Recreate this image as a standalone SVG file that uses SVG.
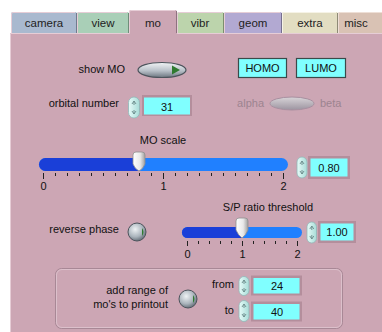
<svg xmlns="http://www.w3.org/2000/svg" width="382" height="332" viewBox="0 0 382 332">
  <defs>
    <style>
      text { font-family: "Liberation Sans", Arial, sans-serif; font-size: 11px; fill: #111; }
      .tabtxt { text-anchor: middle; font-size: 11.5px; fill: #222; }
      .r { text-anchor: end; }
      .m { text-anchor: middle; }
      .dim { fill: #9c8490; }
      .field { fill: #80ffff; }
      .frame { fill: #b48e9c; }
      .spin { fill: url(#spinGrad); stroke: #8fb8b8; stroke-width: 0.8; }
      .arr { fill: none; stroke: #6a8a8a; stroke-width: 0.9; }
      .tick { stroke: #222; stroke-width: 1; }
      .btn { fill: #80ffff; stroke: #3a4a4a; stroke-width: 1.2; }
      .hl { stroke: #e6cdd6; stroke-width: 1; fill: none; }
      .sh { stroke: #8e7280; stroke-width: 1; fill: none; }
    </style>
    <linearGradient id="knobGrad" x1="0" y1="0" x2="0" y2="1">
      <stop offset="0" stop-color="#f2f4f6"/>
      <stop offset="0.55" stop-color="#b8c0c8"/>
      <stop offset="1" stop-color="#6c7680"/>
    </linearGradient>
    <radialGradient id="roundGrad" cx="0.4" cy="0.35" r="0.7">
      <stop offset="0" stop-color="#eef2f4"/>
      <stop offset="0.6" stop-color="#aab4bc"/>
      <stop offset="1" stop-color="#5c6670"/>
    </radialGradient>
    <linearGradient id="thumbGrad" x1="0" y1="0" x2="1" y2="0">
      <stop offset="0" stop-color="#ffffff"/>
      <stop offset="0.6" stop-color="#e8e8e8"/>
      <stop offset="1" stop-color="#a0a0a0"/>
    </linearGradient>
    <linearGradient id="spinGrad" x1="0" y1="0" x2="1" y2="0">
      <stop offset="0" stop-color="#e6fbf8"/>
      <stop offset="1" stop-color="#a8dcd8"/>
    </linearGradient>
    <linearGradient id="grayToggle" x1="0" y1="0" x2="0" y2="1">
      <stop offset="0" stop-color="#d8d4d8"/>
      <stop offset="1" stop-color="#9c94a0"/>
    </linearGradient>
  </defs>

  <rect x="0" y="0" width="382" height="332" fill="#ffffff"/>

  <!-- tab strip -->
  <g id="tabs">
    <g id="tab-camera">
      <path d="M11,33 V14 Q11,12 13,12 H75 Q77,12 77,14 V33 Z" fill="#a9b9cf"/>
      <path d="M11.5,33 V14 Q11.5,12.5 13,12.5 H75" class="hl"/>
      <line x1="76.5" y1="13" x2="76.5" y2="33" stroke="#6f7c8e"/>
      <text x="44" y="27" class="tabtxt">camera</text>
    </g>
    <g id="tab-view">
      <path d="M77,33 V14 Q77,12 79,12 H127 Q129,12 129,14 V33 Z" fill="#a9cfb7"/>
      <path d="M77.5,33 V14 Q77.5,12.5 79,12.5 H127" class="hl"/>
      <line x1="128.5" y1="13" x2="128.5" y2="33" stroke="#6f8e7a"/>
      <text x="103" y="27" class="tabtxt">view</text>
    </g>
    <g id="tab-vibr">
      <path d="M177,33 V14 Q177,12 179,12 H222 Q224,12 224,14 V33 Z" fill="#bcd4ac"/>
      <path d="M177.5,33 V14 Q177.5,12.5 179,12.5 H222" class="hl"/>
      <line x1="223.5" y1="13" x2="223.5" y2="33" stroke="#7c8e6f"/>
      <text x="200" y="27" class="tabtxt">vibr</text>
    </g>
    <g id="tab-geom">
      <path d="M224,33 V14 Q224,12 226,12 H280 Q282,12 282,14 V33 Z" fill="#b2a9d2"/>
      <path d="M224.5,33 V14 Q224.5,12.5 226,12.5 H280" class="hl"/>
      <line x1="281.5" y1="13" x2="281.5" y2="33" stroke="#766f8e"/>
      <text x="253" y="27" class="tabtxt">geom</text>
    </g>
    <g id="tab-extra">
      <path d="M282,33 V14 Q282,12 284,12 H336 Q338,12 338,14 V33 Z" fill="#e2ddc2"/>
      <path d="M282.5,33 V14 Q282.5,12.5 284,12.5 H336" stroke="#f6f3e6" fill="none"/>
      <line x1="337.5" y1="13" x2="337.5" y2="33" stroke="#8e8a76"/>
      <text x="310" y="27" class="tabtxt">extra</text>
    </g>
    <g id="tab-misc">
      <path d="M338,33 V14 Q338,12 340,12 H382 V33 Z" fill="#d9c2b4"/>
      <path d="M338.5,33 V14 Q338.5,12.5 340,12.5 H382" stroke="#eedfd6" fill="none"/>
      <text x="356" y="27" class="tabtxt">misc</text>
    </g>
  </g>

  <!-- panel body with the selected "mo" tab -->
  <g id="panel">
    <rect x="10" y="33" width="372" height="299" fill="#cca6b4"/>
    <path d="M129,34 V12 Q129,10 131,10 H175 Q177,10 177,12 V34 Z" fill="#cca6b4"/>
    <path d="M10.5,332 V33.5 H129.5 V12 Q129.5,10.5 131,10.5 H175" class="hl"/>
    <line x1="176.5" y1="11" x2="176.5" y2="33" stroke="#8e7280"/>
    <line x1="177" y1="33.5" x2="382" y2="33.5" stroke="#e6cdd6"/>
    <text x="153" y="27" class="tabtxt">mo</text>
  </g>

  <!-- show MO toggle -->
  <g id="show-mo">
    <text x="125" y="73" class="r">show MO</text>
    <ellipse cx="162" cy="70" rx="24" ry="7.5" fill="url(#knobGrad)" stroke="#4c545c" stroke-width="1.2"/>
    <path d="M172,65.5 L180,70 L172,74.5 Z" fill="#2f7a2f"/>
  </g>

  <!-- HOMO / LUMO buttons -->
  <g id="homo">
    <rect x="238.5" y="58.5" width="48" height="19" class="btn"/>
    <text x="262.5" y="72" class="m">HOMO</text>
  </g>
  <g id="lumo">
    <rect x="296.5" y="58.5" width="49" height="19" class="btn"/>
    <text x="321" y="72" class="m">LUMO</text>
  </g>

  <!-- orbital number -->
  <g id="orbital-number">
    <text x="119" y="107" class="r">orbital number</text>
    <rect x="128.5" y="97" width="11" height="21" rx="5.5" class="spin"/>
    <path d="M132,104 L134,101 L136,104 M134,101 V105 M132,111 L134,114 L136,111 M134,114 V110" class="arr"/>
    <rect x="142" y="95" width="50" height="21" class="frame"/>
    <rect x="144" y="97.5" width="46" height="17" class="field"/>
    <text x="167" y="111" class="m">31</text>
  </g>

  <!-- alpha/beta toggle (disabled) -->
  <g id="alpha-beta">
    <text x="264" y="107" class="r dim">alpha</text>
    <ellipse cx="292" cy="103.5" rx="22" ry="6.5" fill="url(#grayToggle)" stroke="#a890a0" stroke-width="1"/>
    <text x="320" y="107" class="dim">beta</text>
  </g>

  <!-- MO scale slider -->
  <g id="mo-scale">
    <text x="163" y="144" class="m">MO scale</text>
    <rect x="39" y="158" width="249" height="13" rx="6.5" fill="#2080ff"/>
    <path d="M45.5,158 H140 V171 H45.5 A6.5,6.5 0 0 1 45.5,158 Z" fill="#1a3fd8"/>
    <path d="M133,155 Q133,152 136,152 H142 Q145,152 145,155 V164 Q143,169 139,171 Q135,169 133,164 Z" fill="url(#thumbGrad)" stroke="#909090" stroke-width="0.8"/>
    <path class="tick" d="M43.5,173 V179 M55.5,173 V176 M67.5,173 V176 M79.5,173 V176 M91.5,173 V176 M103.5,173 V176 M115.5,173 V176 M127.5,173 V176 M139.5,173 V176 M151.5,173 V176 M163.5,173 V179 M175.5,173 V176 M187.5,173 V176 M199.5,173 V176 M211.5,173 V176 M223.5,173 V176 M235.5,173 V176 M247.5,173 V176 M259.5,173 V176 M271.5,173 V176 M283.5,173 V179"/>
    <text x="43.5" y="190" class="m">0</text>
    <text x="163.5" y="190" class="m">1</text>
    <text x="283.5" y="190" class="m">2</text>
    <rect x="297" y="157" width="10" height="21" rx="5" class="spin"/>
    <path d="M300,164 L302,161 L304,164 M302,161 V165 M300,171 L302,174 L304,171 M302,174 V170" class="arr"/>
    <rect x="308" y="156" width="42" height="23" class="frame"/>
    <rect x="310.5" y="158.5" width="37" height="18" class="field"/>
    <text x="329" y="172" class="m">0.80</text>
  </g>

  <!-- reverse phase button -->
  <g id="reverse-phase">
    <text x="119" y="233" class="r">reverse phase</text>
    <circle cx="137" cy="232" r="9" fill="url(#roundGrad)" stroke="#4c545c" stroke-width="1"/>
    <path d="M142,228 Q145,232 142,236 Z" fill="#2f7a2f"/>
  </g>

  <!-- S/P ratio threshold slider -->
  <g id="sp-threshold">
    <text x="268" y="211" class="m">S/P ratio threshold</text>
    <rect x="182" y="227" width="120" height="11" rx="5.5" fill="#2080ff"/>
    <path d="M187.5,227 H242 V238 H187.5 A5.5,5.5 0 0 1 187.5,227 Z" fill="#1a3fd8"/>
    <path d="M236,221 Q236,218 239,218 H245 Q248,218 248,221 V230 Q246,235 242,238 Q238,235 236,230 Z" fill="url(#thumbGrad)" stroke="#909090" stroke-width="0.8"/>
    <path class="tick" d="M187.5,241 V246 M198.5,241 V244 M209.5,241 V244 M220.5,241 V244 M231.5,241 V244 M242.5,241 V246 M253.5,241 V244 M264.5,241 V244 M275.5,241 V244 M286.5,241 V244 M297.5,241 V246"/>
    <text x="187.5" y="258" class="m">0</text>
    <text x="242.5" y="258" class="m">1</text>
    <text x="297.5" y="258" class="m">2</text>
    <rect x="307" y="222" width="9.5" height="21" rx="4.75" class="spin"/>
    <path d="M309.8,229 L311.8,226 L313.8,229 M311.8,226 V230 M309.8,236 L311.8,239 L313.8,236 M311.8,239 V235" class="arr"/>
    <rect x="318" y="221" width="38" height="22" class="frame"/>
    <rect x="320.5" y="223.5" width="33" height="17" class="field"/>
    <text x="337" y="236" class="m">1.00</text>
  </g>

  <!-- printout range group -->
  <g id="range-group">
    <rect x="55.5" y="268.5" width="287" height="60" rx="6" fill="none" stroke="#a88896" stroke-width="1"/>
    <rect x="56.5" y="269.5" width="285" height="58" rx="5.5" fill="none" stroke="#dcc0cb" stroke-width="1"/>
    <text x="168" y="294" class="r">add range of</text>
    <text x="168" y="308" class="r">mo's to printout</text>
    <circle cx="188" cy="299" r="9" fill="url(#roundGrad)" stroke="#4c545c" stroke-width="1"/>
    <path d="M193,295 Q196,299 193,303 Z" fill="#2f7a2f"/>
  </g>

  <g id="range-from">
    <text x="234" y="288" class="r">from</text>
    <rect x="239" y="276.5" width="10" height="19" rx="5" class="spin"/>
    <path d="M242,283 L244,280 L246,283 M244,280 V284 M242,289 L244,292 L246,289 M244,292 V288" class="arr"/>
    <rect x="251" y="275.5" width="51" height="20" class="frame"/>
    <rect x="253.5" y="278" width="46" height="15.5" class="field"/>
    <text x="277" y="290" class="m">24</text>
  </g>

  <g id="range-to">
    <text x="234" y="314" class="r">to</text>
    <rect x="239" y="300.5" width="10" height="21" rx="5" class="spin"/>
    <path d="M242,307 L244,304 L246,307 M244,304 V308 M242,314 L244,317 L246,314 M244,317 V313" class="arr"/>
    <rect x="251" y="301.5" width="51" height="20" class="frame"/>
    <rect x="253.5" y="304" width="46" height="15.5" class="field"/>
    <text x="277" y="316" class="m">40</text>
  </g>
</svg>
